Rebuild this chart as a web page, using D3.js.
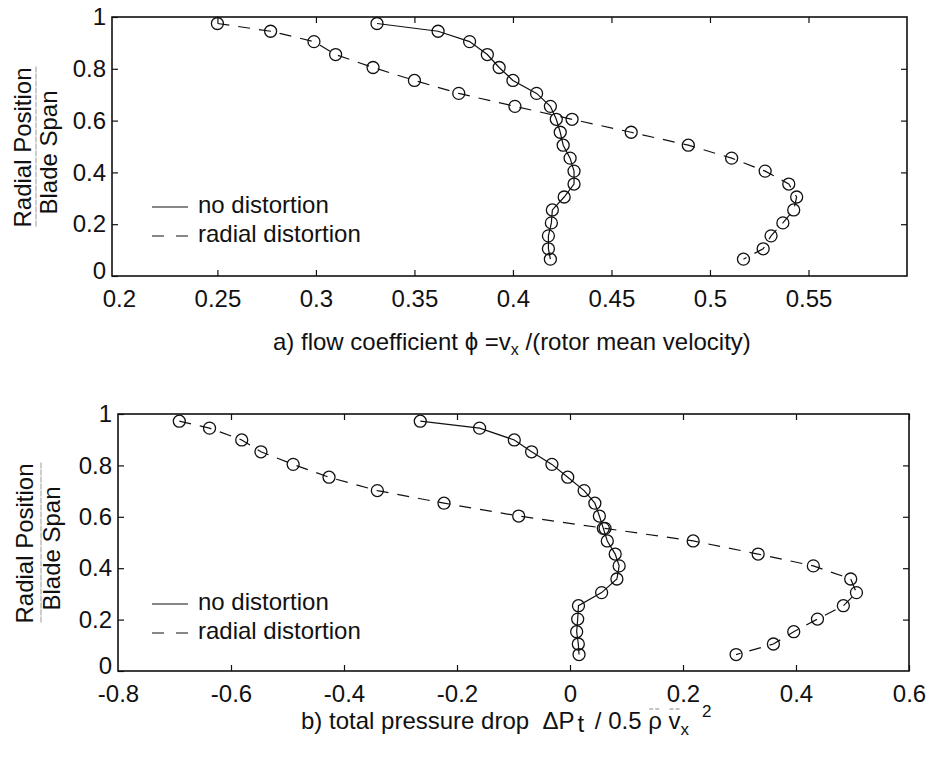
<!DOCTYPE html>
<html>
<head>
<meta charset="utf-8">
<script src="https://cdn.jsdelivr.net/npm/d3@7/dist/d3.min.js"></script>
<style>
  html, body { margin: 0; padding: 0; background: #fff; }
  svg { display: block; }
  text { font-family: "Liberation Sans", Arial, Helvetica, sans-serif; fill: #111; white-space: pre; }
</style>
</head>
<body>
<svg id="chart" width="931" height="757"></svg>
<script>
// Spanwise stations (radial position / blade span)
const spanA = [0.975, 0.945, 0.905, 0.855, 0.805, 0.755, 0.705, 0.655, 0.605, 0.555,
               0.505, 0.455, 0.405, 0.355, 0.305, 0.255, 0.205, 0.155, 0.105, 0.065];
// a) flow coefficient
const phiNoDist  = [0.331, 0.362, 0.378, 0.387, 0.393, 0.400, 0.412, 0.419, 0.422, 0.424,
                    0.4255, 0.429, 0.431, 0.431, 0.426, 0.420, 0.4195, 0.418, 0.418, 0.419];
const phiRadDist = [0.250, 0.277, 0.299, 0.310, 0.329, 0.350, 0.3725, 0.401, 0.430, 0.460,
                    0.489, 0.511, 0.528, 0.540, 0.544, 0.5425, 0.537, 0.531, 0.527, 0.517];

// b) total pressure drop
const spanB = [0.972, 0.945, 0.899, 0.853, 0.804, 0.754, 0.702, 0.653, 0.603, 0.555,
               0.506, 0.455, 0.409, 0.358, 0.305, 0.254, 0.202, 0.153, 0.105, 0.064];
const dpNoDist  = [-0.265, -0.160, -0.0986, -0.068, -0.032, -0.004, 0.025, 0.044, 0.052, 0.059,
                   0.066, 0.080, 0.087, 0.083, 0.056, 0.015, 0.0136, 0.0118, 0.0147, 0.016];
const dpRadDist = [-0.6915, -0.638, -0.581, -0.547, -0.490, -0.4265, -0.341, -0.223, -0.0908, 0.062,
                   0.218, 0.333, 0.4307, 0.4968, 0.507, 0.4838, 0.438, 0.396, 0.360, 0.294];

// Axis ticks
const xTicksA = [0.2, 0.25, 0.3, 0.35, 0.4, 0.45, 0.5, 0.55];
const xTicksB = [-0.8, -0.6, -0.4, -0.2, 0, 0.2, 0.4, 0.6];
const yTicks  = [0, 0.2, 0.4, 0.6, 0.8, 1];

const legendLabels = ["no distortion", "radial distortion"];

const svg = d3.select("#chart");
const FS = 24;

function panel(cfg) {
  const x = d3.scaleLinear().domain(cfg.xDomain).range(cfg.xRange);
  const y = d3.scaleLinear().domain([0, 1]).range(cfg.yRange);
  const g = svg.append("g");
  const [x0, x1] = cfg.xRange, [y0, y1] = cfg.yRange;

  // bottom axis with labels, inward ticks
  const bx = g.append("g").attr("transform", `translate(0,${y0})`)
    .call(d3.axisBottom(x).tickValues(cfg.xTicks).tickFormat(d => String(d))
      .tickSizeInner(-6).tickSizeOuter(0).tickPadding(14));
  // top axis, ticks only
  const tx = g.append("g").attr("transform", `translate(0,${y1})`)
    .call(d3.axisTop(x).tickValues(cfg.xTicks.filter(v => v > cfg.xTicks[0]))
      .tickFormat("").tickSizeInner(-6).tickSizeOuter(0));
  bx.selectAll(".tick").filter(d => d === cfg.xTicks[0] && x(d) - x0 < 8).select("line").remove();
  // left axis with labels
  const ly = g.append("g").attr("transform", `translate(${x0},0)`)
    .call(d3.axisLeft(y).tickValues(yTicks).tickFormat(d => String(d))
      .tickSizeInner(-6).tickSizeOuter(0).tickPadding(6));
  // right axis, ticks only
  const ry = g.append("g").attr("transform", `translate(${x1},0)`)
    .call(d3.axisRight(y).tickValues(yTicks.slice(1, -1))
      .tickFormat("").tickSizeInner(-6).tickSizeOuter(0));
  [bx, tx, ly, ry].forEach(a => {
    a.select(".domain").remove();
    a.selectAll("line").attr("stroke", "#111").attr("stroke-width", 1.2);
    a.selectAll("text").attr("font-size", FS).attr("font-family", null).attr("fill", "#111");
  });
  // the bottom "0" label sits slightly higher so it clears the first x label
  ly.selectAll(".tick").filter(d => d === 0).select("text").attr("dy", "0.1em");

  // plot frame
  g.append("rect").attr("x", x0).attr("y", y1).attr("width", x1 - x0).attr("height", y0 - y1)
    .attr("fill", "none").attr("stroke", "#111").attr("stroke-width", 1.6);

  const line = d3.line().x(d => x(d[0])).y(d => y(d[1]));
  const series = [
    { vals: cfg.noDist, dash: null },
    { vals: cfg.radDist, dash: "12,9" }
  ];
  series.forEach(s => {
    const pts = s.vals.map((v, i) => [v, cfg.span[i]]);
    g.append("path").datum(pts).attr("d", line).attr("fill", "none")
      .attr("stroke", "#111").attr("stroke-width", 1.2)
      .attr("stroke-dasharray", s.dash);
    g.selectAll(null).data(pts).enter().append("circle")
      .attr("cx", d => x(d[0])).attr("cy", d => y(d[1])).attr("r", 6)
      .attr("fill", "none").attr("stroke", "#111").attr("stroke-width", 1.3);
  });

  // legend
  legendLabels.forEach((lab, i) => {
    const by = cfg.legendY + i * 29;
    g.append("line").attr("x1", 152).attr("x2", 188).attr("y1", by - 6).attr("y2", by - 6)
      .attr("stroke", "#111").attr("stroke-width", 1.1)
      .attr("stroke-dasharray", i === 1 ? "12,12" : null);
    g.append("text").attr("x", 198).attr("y", by).attr("font-size", FS).text(lab);
  });

  // y label: fraction Radial Position / Blade Span
  const yc = (y0 + y1) / 2;
  g.append("text").attr("transform", `translate(${cfg.ylab[0]},${yc + 1}) rotate(-90)`)
    .attr("text-anchor", "middle").attr("font-size", FS).text("Radial Position");
  g.append("line").attr("x1", cfg.ylab[1]).attr("x2", cfg.ylab[1])
    .attr("y1", yc - 80).attr("y2", yc + 80)
    .attr("stroke", "#999").attr("stroke-width", 1).attr("stroke-dasharray", "6,1");
  g.append("text").attr("transform", `translate(${cfg.ylab[2]},${yc + 6}) rotate(-90)`)
    .attr("text-anchor", "middle").attr("font-size", FS).text("Blade Span");

  return { g, x, y };
}

// a) flow coefficient panel
panel({
  xDomain: [0.1965, 0.6], xRange: [112, 907], yRange: [276, 17],
  xTicks: xTicksA, span: spanA, noDist: phiNoDist, radDist: phiRadDist,
  legendY: 213, ylab: [31, 36, 57]
});
const ta = svg.append("text").attr("x", 273).attr("y", 350).attr("font-size", FS);
ta.append("tspan").text("a) flow coefficient ");
ta.append("tspan").text("\u03D5");
ta.append("tspan").text(" =v");
ta.append("tspan").attr("dy", 5).attr("font-size", 16).text("x");
ta.append("tspan").attr("dy", -5).text(" /(rotor mean velocity)");

// b) total pressure drop panel
panel({
  xDomain: [-0.8, 0.6], xRange: [118, 909], yRange: [671, 414],
  xTicks: xTicksB, span: spanB, noDist: dpNoDist, radDist: dpRadDist,
  legendY: 610, ylab: [33, 41, 60]
});
const tb = svg.append("text").attr("x", 301).attr("y", 729).attr("font-size", FS);
tb.append("tspan").text("b) total pressure drop  \u0394P");
tb.append("tspan").attr("dy", 3).attr("dx", 3).text("t");
tb.append("tspan").attr("dy", -3).attr("dx", 4).text(" / 0.5 ");
const rho = tb.append("tspan").text("\u03C1");
tb.append("tspan").text(" ");
const vv = tb.append("tspan").text("v");
tb.append("tspan").attr("dy", 6).attr("font-size", 17).text("x");
tb.append("tspan").attr("dy", -18).attr("dx", 13).attr("font-size", 17).text("2");
// light overbars above rho and v
[rho, vv].forEach(t => {
  const r = t.node().getExtentOfChar(0);
  svg.append("line").attr("x1", r.x + 1).attr("x2", r.x + r.width - 1)
    .attr("y1", 709).attr("y2", 709)
    .attr("stroke", "#888").attr("stroke-width", 1).attr("stroke-dasharray", "4,2");
});
</script>
</body>
</html>
